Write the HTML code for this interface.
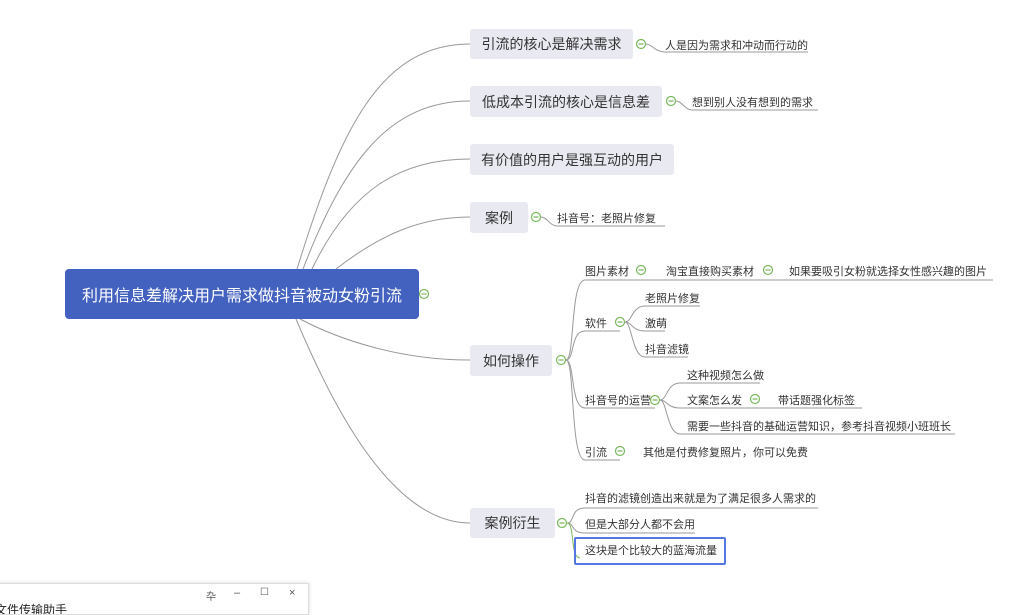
<!DOCTYPE html>
<html><head><meta charset="utf-8"><style>
html,body{margin:0;padding:0;width:1024px;height:608px;overflow:hidden;background:#fff;font-family:"Liberation Sans","Noto Sans CJK SC",sans-serif;}
.t{position:absolute;white-space:nowrap;color:#333;}
.box{position:absolute;background:#e9eaf1;border-radius:3px;font-size:14px;color:#333;display:flex;align-items:center;justify-content:center;}
.s{position:absolute;font-size:11px;color:#333;white-space:nowrap;}
</style></head><body>
<svg width="1024" height="608" style="position:absolute;left:0;top:0" xmlns="http://www.w3.org/2000/svg">
<g fill="none" stroke="#999" stroke-width="1">
<path d="M297,269 C340,130 380,44 470,44"/>
<path d="M303,269 C345,160 390,101 470,101"/>
<path d="M312,269 C350,190 400,159 470,159"/>
<path d="M336,269 C380,235 420,217 470,217"/>
<path d="M300,319 C340,340 400,360 470,360"/>
<path d="M296,319 C330,400 390,523 470,523"/>
<!-- level 2 -->
<path d="M646,44 C652,44 655,52 665,52 L808,52"/>
<path d="M676,101 C682,101 685,110 692,110 L818,110"/>
<path d="M541,217 C547,217 550,226 557,226 L665,226"/>
<!-- 如何操作 -->
<path d="M566,360 C575,360 570,280 585,280 L993,280"/>
<path d="M566,360 C575,360 570,331 585,331 L620,331"/>
<path d="M566,360 C575,360 570,408 585,408 L655,408"/>
<path d="M566,360 C575,360 570,460 585,460 L620,460"/>
<path d="M625,322 C632,322 632,306 645,306 L700,306"/>
<path d="M625,322 C632,322 632,331 645,331 L665,331"/>
<path d="M625,322 C632,322 632,357 645,357 L688,357"/>
<path d="M660,400 C667,400 667,383 680,383 L760,383"/>
<path d="M660,400 C667,400 667,408 680,408 L862,408"/>
<path d="M660,400 C667,400 667,434 680,434 L955,434"/>
<path d="M567,523 C575,523 570,508 585,508 L818,508"/>
<path d="M567,523 C575,523 570,533 585,533 L695,533"/>
<path d="M567,523 C575,523 570,558 580,558" stroke="#7ab85c"/>
</g>
<g fill="#fff" stroke="#7ab85c" stroke-width="1.2">
<circle cx="641" cy="44" r="4.5"/><circle cx="671" cy="101" r="4.5"/><circle cx="536" cy="217" r="4.5"/>
<circle cx="424" cy="294" r="4.5"/><circle cx="561" cy="360" r="4.5"/><circle cx="562" cy="523" r="4.5"/>
<circle cx="641" cy="270" r="4.5"/><circle cx="768" cy="270" r="4.5"/><circle cx="620" cy="322" r="4.5"/>
<circle cx="655" cy="400" r="4.5"/><circle cx="755" cy="399" r="4.5"/><circle cx="620" cy="451" r="4.5"/>
</g>
<g stroke="#7ab85c" stroke-width="1.2">
<path d="M638.5,44h5M668.5,101h5M533.5,217h5M421.5,294h5M558.5,360h5M559.5,523h5M638.5,270h5M765.5,270h5M617.5,322h5M652.5,400h5M752.5,399h5M617.5,451h5"/>
</g>
</svg>
<div class="box" style="left:65px;top:269px;width:354px;height:50px;background:#4361bf;color:#fff;font-size:16px;border-radius:4px;">利用信息差解决用户需求做抖音被动女粉引流</div>
<div class="box" style="left:470px;top:29px;width:163px;height:30px;">引流的核心是解决需求</div>
<div class="box" style="left:470px;top:86px;width:192px;height:31px;">低成本引流的核心是信息差</div>
<div class="box" style="left:470px;top:144px;width:204px;height:31px;">有价值的用户是强互动的用户</div>
<div class="box" style="left:470px;top:202px;width:58px;height:31px;">案例</div>
<div class="box" style="left:470px;top:345px;width:82px;height:31px;">如何操作</div>
<div class="box" style="left:470px;top:508px;width:85px;height:30px;">案例衍生</div>
<div class="s" style="left:665px;top:37px">人是因为需求和冲动而行动的</div>
<div class="s" style="left:692px;top:94px">想到别人没有想到的需求</div>
<div class="s" style="left:557px;top:210px">抖音号：老照片修复</div>
<div class="s" style="left:585px;top:263px">图片素材</div>
<div class="s" style="left:666px;top:263px">淘宝直接购买素材</div>
<div class="s" style="left:789px;top:263px">如果要吸引女粉就选择女性感兴趣的图片</div>
<div class="s" style="left:585px;top:315px">软件</div>
<div class="s" style="left:645px;top:290px">老照片修复</div>
<div class="s" style="left:645px;top:315px">激萌</div>
<div class="s" style="left:645px;top:341px">抖音滤镜</div>
<div class="s" style="left:585px;top:392px">抖音号的运营</div>
<div class="s" style="left:687px;top:367px">这种视频怎么做</div>
<div class="s" style="left:687px;top:392px">文案怎么发</div>
<div class="s" style="left:778px;top:392px">带话题强化标签</div>
<div class="s" style="left:687px;top:418px">需要一些抖音的基础运营知识，参考抖音视频小班班长</div>
<div class="s" style="left:585px;top:444px">引流</div>
<div class="s" style="left:643px;top:444px">其他是付费修复照片，你可以免费</div>
<div class="s" style="left:585px;top:490px">抖音的滤镜创造出来就是为了满足很多人需求的</div>
<div class="s" style="left:585px;top:516px">但是大部分人都不会用</div>
<div style="position:absolute;left:574px;top:537px;width:148px;height:24px;border:2px solid #5577e0;border-radius:2px;"></div>
<div class="s" style="left:585px;top:542px">这块是个比较大的蓝海流量</div>
<div style="position:absolute;left:-2px;top:583px;width:309px;height:30px;background:#fff;border:1px solid #ddd;box-shadow:0 0 4px rgba(0,0,0,0.15);overflow:hidden;">
<div class="s" style="left:207px;top:4px;color:#555;font-size:10px">卆</div>
<div class="s" style="left:235px;top:3px;color:#555">–</div>
<div class="s" style="left:261px;top:3px;color:#555;font-size:10px">☐</div>
<div class="s" style="left:290px;top:3px;color:#555">×</div>
<div class="s" style="left:-4px;top:17px;color:#222;font-size:12px">文件传输助手</div>
</div>
</body></html>
